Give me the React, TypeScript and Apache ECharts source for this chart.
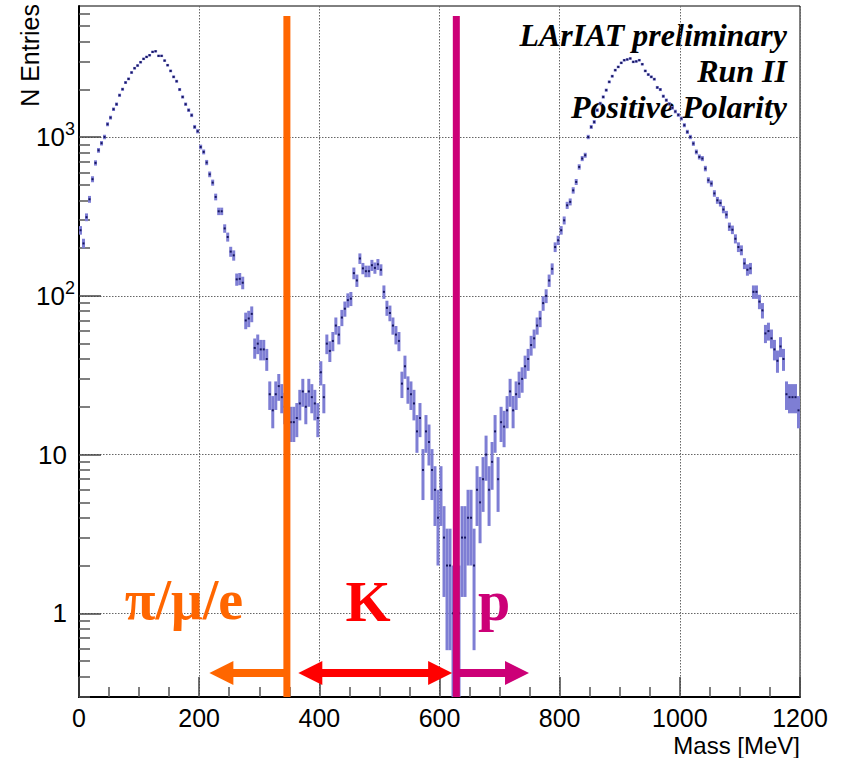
import React, { useEffect, useRef } from "react";
import * as echarts from "echarts";

// ---------- data ----------
const BIN_WIDTH = 5; // MeV
const counts: number[] = [
  259, 214, 313, 406, 543, 688, 826, 916, 1002, 1206,
  1327, 1499, 1612, 1836, 2004, 2208, 2327, 2553, 2717, 2825,
  2965, 3112, 3201, 3281, 3443, 3475, 3250, 3250, 3034, 2839,
  2613, 2397, 2249, 1995, 1791, 1612, 1479, 1374, 1159, 1089,
  867, 807, 692, 583, 517, 420, 341, 341, 266, 235,
  190, 180, 127, 128, 121, 70, 72, 77, 47, 50,
  46, 46, 40, 24, 19, 24, 27, 23, 20, 14,
  16, 16, 17, 21, 25, 20, 25, 23, 21, 17,
  33, 23, 50, 45, 52, 65, 57, 73, 83, 94,
  96, 139, 125, 172, 149, 143, 143, 156, 150, 158,
  146, 106, 84, 78, 65, 57, 52, 28, 36, 26,
  24, 21, 14, 17, 8, 14, 12, 8, 6, 4,
  6, 3, 2, 2, 1, 2, 1, 3, 3, 4,
  4, 2, 6, 5, 7, 10, 6, 9, 14, 7,
  16, 15, 19, 25, 19, 24, 28, 30, 36, 40,
  49, 54, 65, 72, 90, 100, 125, 148, 203, 224,
  259, 299, 372, 391, 462, 522, 649, 733, 769, 1002,
  1159, 1246, 1479, 1629, 1791, 1977, 2229, 2420, 2642, 2769,
  2937, 3053, 3085, 3129, 2979, 3000, 3053, 2880, 2613, 2478,
  2397, 2318, 2055, 1995, 1810, 1709, 1620, 1530, 1450, 1380,
  1310, 1189, 1079, 1002, 911, 807, 750, 733, 634, 535,
  510, 442, 400, 385, 350, 325, 273, 261, 229, 203,
  194, 160, 146, 149, 106, 106, 92, 81, 58, 60,
  54, 46, 39, 48, 40, 24, 23, 23, 23, 19,
];

const xTickLabels = ["0", "200", "400", "600", "800", "1000", "1200"];
const yMajorTicks = [1, 10, 100, 1000];
const yMinorTicks = [
  0.3, 0.4, 0.5, 0.6, 0.7, 0.8, 0.9,
  2, 3, 4, 5, 6, 7, 8, 9,
  20, 30, 40, 50, 60, 70, 80, 90,
  200, 300, 400, 500, 600, 700, 800, 900,
  2000, 3000, 4000, 5000, 6000,
];

const X_MIN = 0;
const X_MAX = 1200;
const Y_MIN = 0.297;
const Y_MAX = 6700;

// selection cuts (MeV)
const cutPiMuE = 346;
const cutK = 628;
const cutLineTop = 5800;

// region arrows (MeV) and their height (entries)
const arrowLevel = 0.42;
const arrowFrom = [346, 365, 628];
const arrowTo = [217, 621, 749];
const arrowHeadStart = [false, true, false];
const arrowHeadEnd = [true, true, true];

const ORANGE = "#ff6600";
const RED = "#ff0000";
const MAGENTA = "#cc0077";
const arrowColors = [ORANGE, RED, MAGENTA];

const BOX = "#7e7ed4";
const DOT = "#16165e";
const GRID = "#666";
const SANS = "'Liberation Sans', Arial, Helvetica, sans-serif";
const SERIF = "'Liberation Serif', 'Times New Roman', Times, serif";

export default function App() {
  const ref = useRef<HTMLDivElement>(null);

  useEffect(() => {
    document.body.style.margin = "0";
    if (!ref.current) return;
    const chart = echarts.init(ref.current, undefined, { renderer: "svg" });

    const histData = counts.map((n, i) => [i * BIN_WIDTH, (i + 1) * BIN_WIDTH, n]);
    const arrowData = arrowFrom.map((f, i) => [f, arrowTo[i], arrowLevel]);

    const yLabel = (v: number) => {
      const near = (a: number) => Math.abs(v - a) / a < 1e-6;
      if (near(1)) return "{b|1}{sp|}";
      if (near(10)) return "{b|10}{sp|}";
      if (near(100)) return "{b|10}{s|2}";
      if (near(1000)) return "{b|10}{s|3}";
      return "";
    };

    const textStyleTR = {
      fontSize: 32,
      fontFamily: SERIF,
      fontWeight: "bold",
      fontStyle: "italic",
      fill: "#000",
      align: "right",
      verticalAlign: "middle",
    };

    const option: any = {
      animation: false,
      backgroundColor: "#ffffff",
      grid: {
        left: 79,
        right: 48,
        top: 6,
        bottom: 61,
        show: true,
        borderColor: "#000",
        borderWidth: 1,
        backgroundColor: "transparent",
      },
      xAxis: {
        type: "value",
        min: X_MIN,
        max: X_MAX,
        interval: 200,
        axisLine: { show: true, onZero: false, lineStyle: { color: "#000", width: 2 } },
        axisTick: { show: true, inside: true, length: 20, lineStyle: { color: "#444", width: 1.5 } },
        minorTick: { show: true, splitNumber: 4, length: 10, lineStyle: { color: "#555", width: 1.5 } },
        axisLabel: {
          show: true,
          margin: 8,
          color: "#000",
          fontSize: 25,
          lineHeight: 25,
          fontFamily: SANS,
          formatter: (v: number) => {
            const idx = Math.round(v / 200);
            return Math.abs(v - idx * 200) < 1e-6 ? xTickLabels[idx] ?? "" : "";
          },
        },
        splitLine: { show: true, lineStyle: { color: GRID, width: 1, type: [1.5, 1.5] } },
      },
      yAxis: [
        {
          type: "log",
          logBase: 10,
          min: Y_MIN,
          max: Y_MAX,
          position: "left",
          axisLine: { show: true, onZero: false, lineStyle: { color: "#000", width: 2 } },
          axisTick: {
            show: true,
            inside: true,
            length: 22,
            customValues: yMajorTicks,
            lineStyle: { color: "#444", width: 1.5 },
          },
          axisLabel: {
            show: true,
            margin: 4,
            customValues: yMajorTicks,
            formatter: yLabel,
            color: "#000",
            rich: {
              b: { fontSize: 26, fontFamily: SANS, color: "#000" },
              s: { fontSize: 18, fontFamily: SANS, color: "#000", padding: [0, 0, 16, 0] },
              sp: { width: 8 },
            },
          },
          splitLine: { show: true, lineStyle: { color: GRID, width: 1, type: [1.5, 1.5] } },
        },
        {
          type: "log",
          logBase: 10,
          min: Y_MIN,
          max: Y_MAX,
          position: "left",
          offset: 0,
          axisLine: { show: false },
          axisLabel: { show: false },
          splitLine: { show: false },
          axisTick: {
            show: true,
            inside: true,
            length: 11,
            customValues: yMinorTicks,
            lineStyle: { color: "#555", width: 1.5 },
          },
        },
      ],
      series: [
        {
          name: "Mass",
          type: "custom",
          xAxisIndex: 0,
          yAxisIndex: 0,
          clip: true,
          z: 2,
          data: histData,
          encode: { x: [0, 1], y: 2 },
          renderItem: (_params: any, api: any) => {
            const x0 = api.value(0);
            const x1 = api.value(1);
            const n = api.value(2);
            if (!(n > 0)) return null;
            const err = Math.sqrt(n);
            const lo = Math.max(n - err, Y_MIN);
            const hi = Math.min(n + err, Y_MAX);
            const pTop = api.coord([x0, hi]);
            const pBot = api.coord([x1, lo]);
            const pc = api.coord([(x0 + x1) / 2, n]);
            return {
              type: "group",
              children: [
                {
                  type: "rect",
                  shape: {
                    x: pTop[0],
                    y: pTop[1],
                    width: pBot[0] - pTop[0],
                    height: Math.max(pBot[1] - pTop[1], 1.5),
                  },
                  style: { fill: BOX },
                },
                {
                  type: "rect",
                  shape: { x: pc[0] - 1, y: pc[1] - 1, width: 2, height: 2 },
                  style: { fill: DOT },
                },
              ],
            };
          },
        },
        {
          name: "cut pi/mu/e",
          type: "line",
          z: 3,
          symbol: "none",
          data: [
            [cutPiMuE, Y_MIN],
            [cutPiMuE, cutLineTop],
          ],
          lineStyle: { color: ORANGE, width: 7, cap: "butt" },
        },
        {
          name: "cut K",
          type: "line",
          z: 3,
          symbol: "none",
          data: [
            [cutK, Y_MIN],
            [cutK, cutLineTop],
          ],
          lineStyle: { color: MAGENTA, width: 7, cap: "butt" },
        },
        {
          name: "arrows",
          type: "custom",
          z: 4,
          data: arrowData,
          encode: { x: [0, 1], y: 2 },
          renderItem: (params: any, api: any) => {
            const i = params.dataIndex;
            const color = arrowColors[i];
            const p0 = api.coord([api.value(0), api.value(2)]);
            const p1 = api.coord([api.value(1), api.value(2)]);
            const dir = p1[0] > p0[0] ? 1 : -1;
            const HL = 24;
            const HW = 12;
            const T = 8;
            const y = p0[1];
            const sx0 = p0[0] + (arrowHeadStart[i] ? dir * (HL - 1) : 0);
            const sx1 = p1[0] - (arrowHeadEnd[i] ? dir * (HL - 1) : 0);
            const children: any[] = [
              {
                type: "rect",
                shape: { x: Math.min(sx0, sx1), y: y - T / 2, width: Math.abs(sx1 - sx0), height: T },
                style: { fill: color },
              },
            ];
            if (arrowHeadEnd[i]) {
              children.push({
                type: "polygon",
                shape: { points: [[p1[0], y], [p1[0] - dir * HL, y - HW], [p1[0] - dir * HL, y + HW]] },
                style: { fill: color },
              });
            }
            if (arrowHeadStart[i]) {
              children.push({
                type: "polygon",
                shape: { points: [[p0[0], y], [p0[0] + dir * HL, y - HW], [p0[0] + dir * HL, y + HW]] },
                style: { fill: color },
              });
            }
            return { type: "group", children };
          },
        },
      ],
      graphic: [
        {
          type: "text",
          x: 30,
          y: 4,
          rotation: Math.PI / 2,
          style: {
            text: "N Entries",
            fontSize: 25,
            fontFamily: SANS,
            fill: "#000",
            align: "right",
            verticalAlign: "middle",
          },
        },
        {
          type: "text",
          x: 800,
          y: 745,
          style: {
            text: "Mass [MeV]",
            fontSize: 24,
            lineHeight: 24,
            fontFamily: SANS,
            fill: "#000",
            align: "right",
            verticalAlign: "middle",
          },
        },
        { type: "text", x: 787, y: 35, style: { ...textStyleTR, text: "LArIAT preliminary" } },
        { type: "text", x: 787, y: 71, style: { ...textStyleTR, text: "Run II" } },
        { type: "text", x: 787, y: 107, style: { ...textStyleTR, text: "Positive Polarity" } },
        {
          type: "text",
          x: 184,
          y: 600,
          z: 10,
          style: {
            text: "π/μ/e",
            fontSize: 56,
            fontFamily: SERIF,
            fontWeight: "bold",
            fill: ORANGE,
            align: "center",
            verticalAlign: "middle",
          },
        },
        {
          type: "text",
          x: 368,
          y: 601,
          z: 10,
          style: {
            text: "K",
            fontSize: 58,
            fontFamily: SERIF,
            fontWeight: "bold",
            fill: RED,
            align: "center",
            verticalAlign: "middle",
          },
        },
        {
          type: "text",
          x: 494,
          y: 600,
          z: 10,
          style: {
            text: "p",
            fontSize: 58,
            fontFamily: SERIF,
            fontWeight: "bold",
            fill: MAGENTA,
            align: "center",
            verticalAlign: "middle",
          },
        },
      ],
    };

    chart.setOption(option);
    return () => {
      chart.dispose();
    };
  }, []);

  return <div ref={ref} style={{ width: 848, height: 758 }} />;
}
